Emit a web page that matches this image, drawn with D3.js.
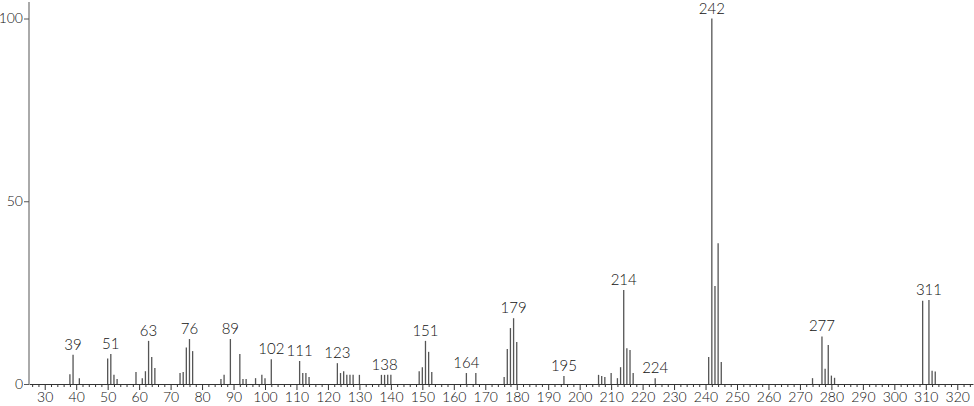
<!DOCTYPE html>
<html>
<head>
<meta charset="utf-8">
<script src="https://cdn.jsdelivr.net/npm/d3@7"></script>
<style>
  body { margin: 0; background: #fff; }
  text { font-family: Lato, "DejaVu Sans", sans-serif; font-weight: 300; fill: #111; }
</style>
</head>
<body>
<svg width="974" height="406"></svg>
<script>
  // m/z values and relative intensities
  const mzValues = [38, 39, 41, 50, 51, 52, 53, 59, 61, 62, 63, 64, 65, 73, 74, 75, 76, 77,
    86, 87, 89, 92, 93, 94, 97, 99, 100, 102, 111, 112, 113, 114, 123, 124, 125, 126, 127, 128,
    130, 137, 138, 139, 140, 149, 150, 151, 152, 153, 164, 167, 176, 177, 178, 179, 180, 195,
    206, 207, 208, 210, 212, 213, 214, 215, 216, 217, 224, 241, 242, 243, 244, 245,
    274, 277, 278, 279, 280, 281, 309, 311, 312, 313];
  const intensities = [2.7, 8, 1.6, 7, 8.2, 2.5, 1.4, 3.3, 1.6, 3.5, 11.8, 7.4, 4.4, 3, 3.3, 10, 12.3, 9,
    1.4, 2.5, 12.3, 8.2, 1.4, 1.4, 1.6, 2.5, 1.6, 6.8, 6.3, 3, 3, 1.9, 5.7, 3, 3.5, 2.5, 2.5, 2.5,
    2.5, 2.5, 2.5, 2.5, 2.5, 3.5, 4.6, 11.8, 8.8, 3.3, 3, 3, 1.9, 9.6, 15.3, 18, 11.5, 2.2,
    2.5, 2.2, 1.9, 3, 1.6, 4.6, 25.7, 9.8, 9.3, 3, 1.6, 7.4, 100, 26.8, 38.5, 6,
    1.6, 13, 4.2, 10.7, 2.3, 1.7, 22.8, 23, 3.6, 3.4];
  const labelledPeaks = [39, 51, 63, 76, 89, 102, 111, 123, 138, 151, 164, 179, 195, 214, 224, 242, 277, 311];
  const xTicks = d3.range(30, 321, 10);
  const yTicks = [0, 50, 100];

  const svg = d3.select('svg');
  const data = mzValues.map((mz, i) => ({ mz, v: intensities[i] }));

  const xScale = d3.scaleLinear().domain([25, 325]).range([29, 973]);
  const yScale = d3.scaleLinear().domain([0, 100]).range([384, 18.5]);

  // minor ticks every 2 units
  const minor = d3.range(26, 325, 2).filter(d => d % 10 !== 0);
  svg.append('g')
    .attr('transform', 'translate(0,384)')
    .call(d3.axisBottom(xScale).tickValues(minor).tickSize(3).tickFormat(''))
    .call(g => g.selectAll('.tick line').attr('stroke', '#333'))
    .select('.domain').remove();

  const xAxisG = svg.append('g')
    .attr('transform', 'translate(0,384)')
    .call(d3.axisBottom(xScale).tickValues(xTicks).tickSize(6).tickPadding(2).tickSizeOuter(0));
  xAxisG.select('.domain').attr('stroke', '#333');
  xAxisG.selectAll('.tick line').attr('stroke', '#333');
  xAxisG.selectAll('.tick text').attr('font-size', 14).style('font-family', 'Lato, sans-serif');

  const yAxisG = svg.append('g')
    .attr('transform', 'translate(29,0)')
    .call(d3.axisLeft(yScale).tickValues(yTicks).tickSize(5).tickPadding(1).tickSizeOuter(0));
  yAxisG.select('.domain').attr('stroke', '#aaa').attr('stroke-width', 2)
    .attr('d', `M0,2V384`);
  yAxisG.selectAll('.tick line').attr('stroke', '#555');
  yAxisG.selectAll('.tick text').attr('font-size', 14).style('font-family', 'Lato, sans-serif');

  // peaks
  svg.append('g').selectAll('line').data(data).join('line')
    .attr('x1', d => xScale(d.mz)).attr('x2', d => xScale(d.mz))
    .attr('y1', yScale(0)).attr('y2', d => yScale(d.v))
    .attr('stroke', '#555').attr('stroke-width', 1.3);

  // peak labels
  svg.append('g').selectAll('text')
    .data(data.filter(d => labelledPeaks.includes(d.mz)))
    .join('text')
    .attr('x', d => xScale(d.mz))
    .attr('y', d => yScale(d.v) - 5)
    .attr('text-anchor', 'middle')
    .attr('font-size', 15)
    .text(d => d.mz);
</script>
</body>
</html>
